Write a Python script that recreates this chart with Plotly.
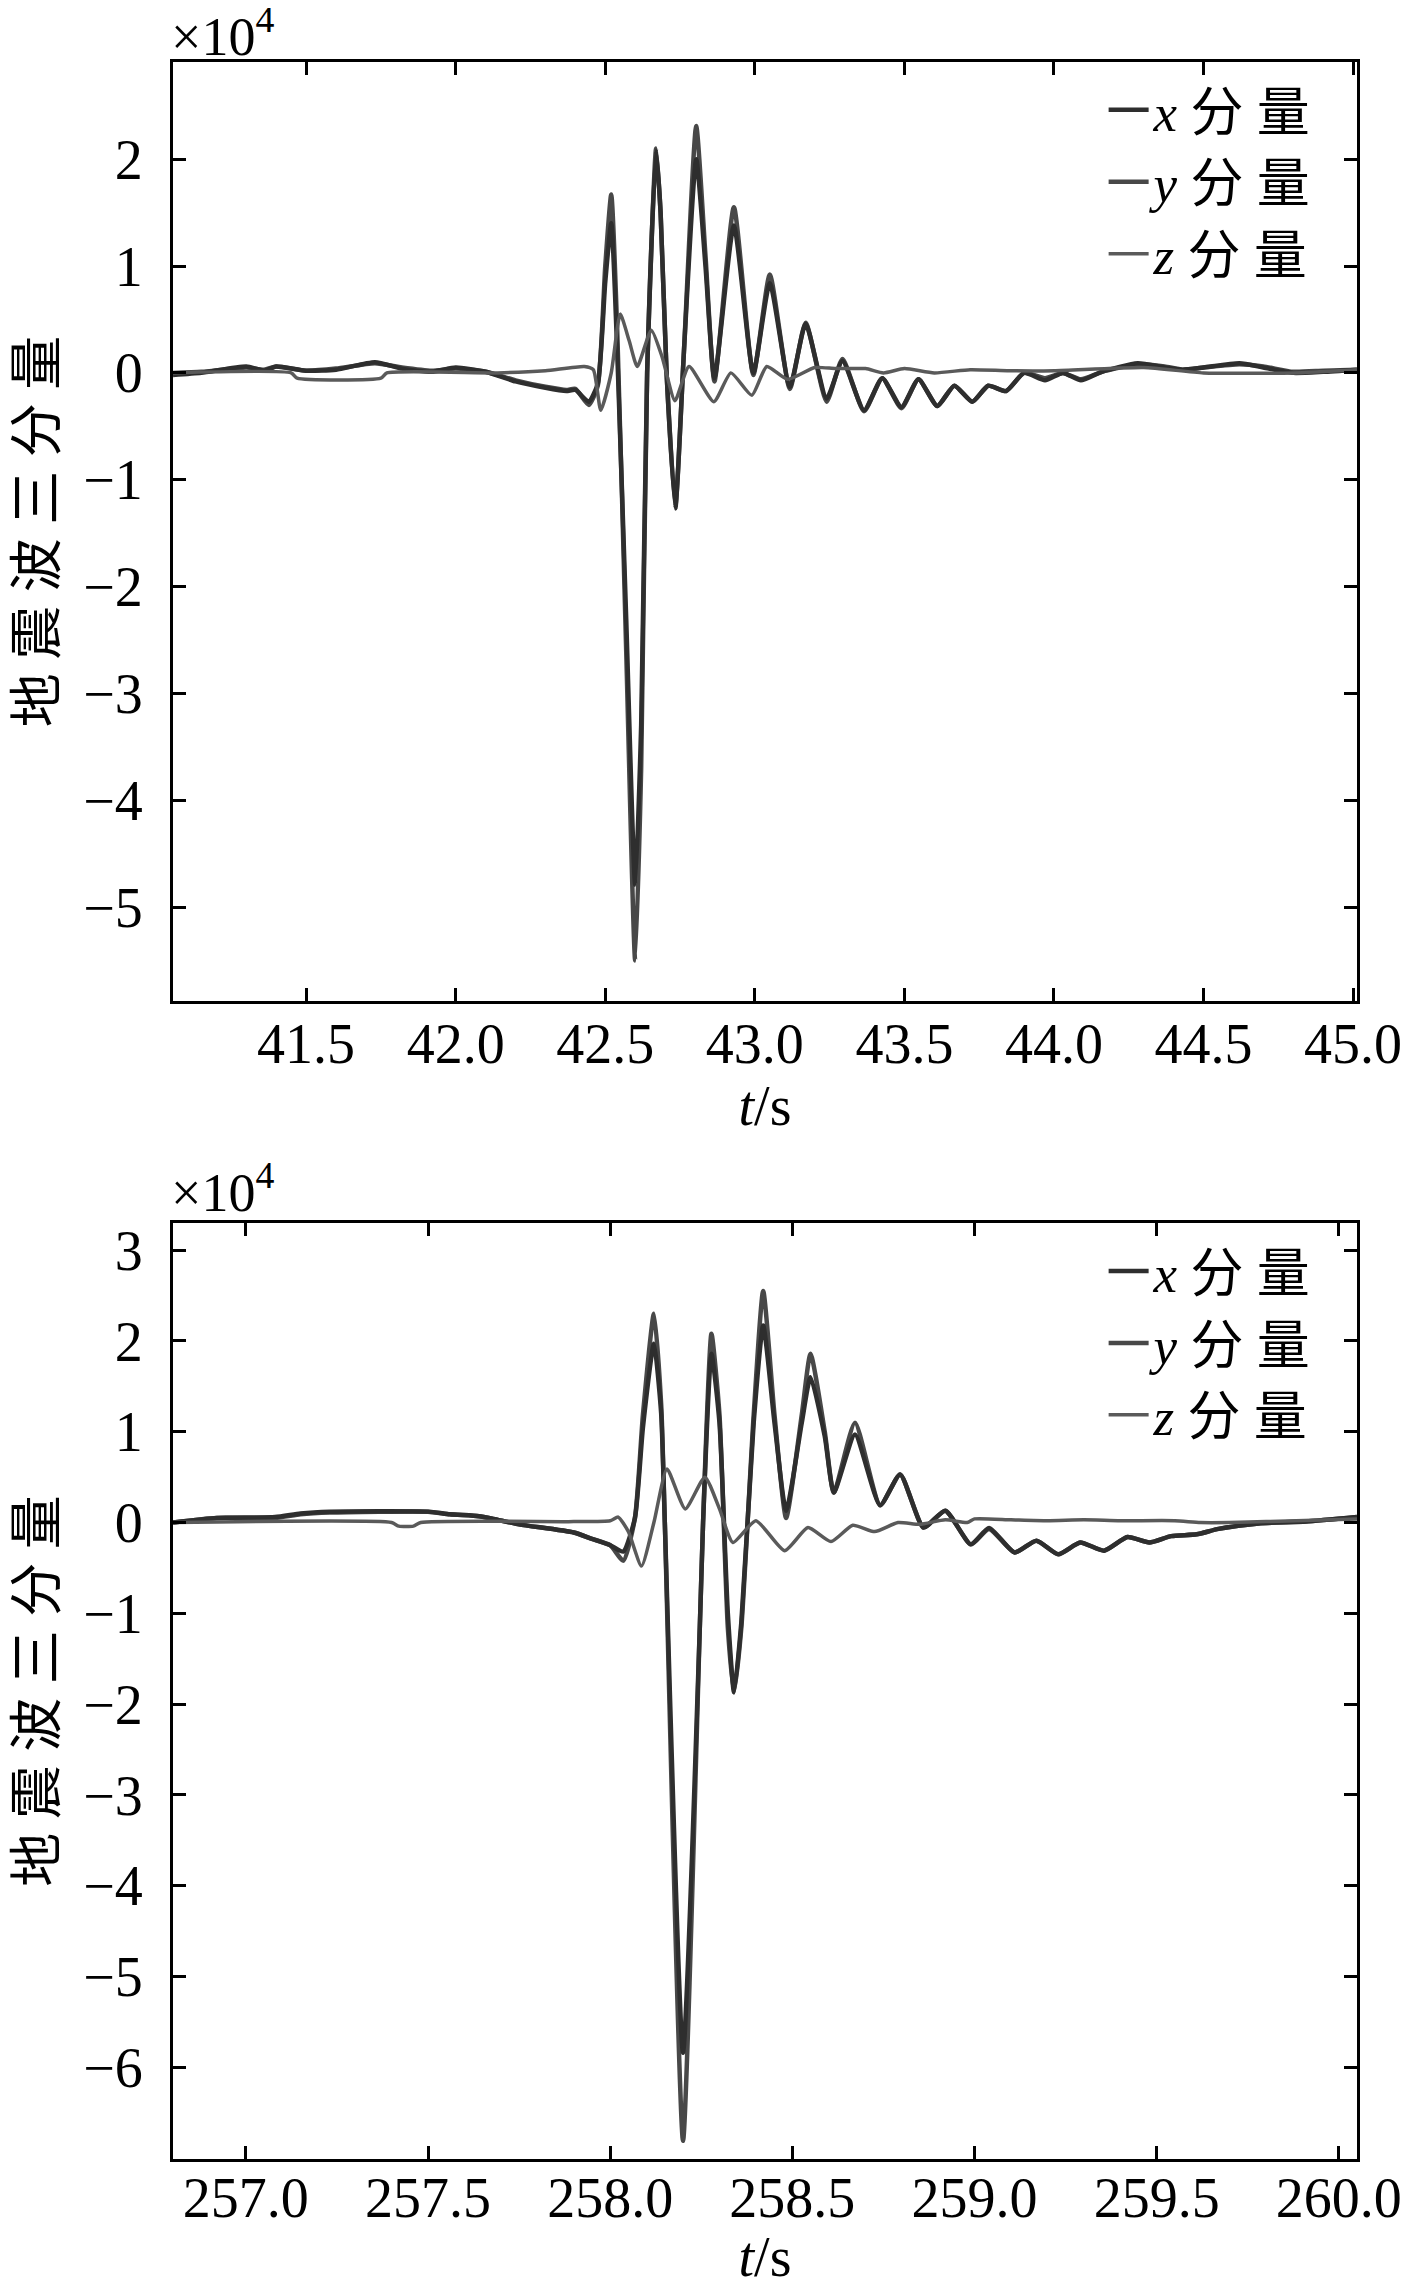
import plotly.graph_objects as go

# ---------------- data (values in units of 10^4) ----------------
# Top panel: x / y components share a time grid
t_top_xy = [41.055, 41.15, 41.30, 41.36, 41.40, 41.50, 41.60, 41.73, 41.82, 41.92,
            42.00, 42.10, 42.20, 42.30, 42.37, 42.40, 42.445, 42.475, 42.50, 42.52,
            42.54, 42.57, 42.60, 42.62, 42.64, 42.67, 42.685, 42.705, 42.734, 42.763,
            42.804, 42.835, 42.865, 42.93, 42.995, 43.05, 43.117, 43.17, 43.24, 43.293,
            43.365, 43.426, 43.49, 43.547, 43.61, 43.667, 43.727, 43.78, 43.84, 43.90,
            43.97, 44.03, 44.09, 44.16, 44.28, 44.37, 44.43, 44.50, 44.62, 44.70,
            44.80, 44.90, 45.013]
x_top = [-0.02, 0.00, 0.06, 0.02, 0.06, 0.02, 0.03, 0.10, 0.04, 0.01,
         0.05, 0.01, -0.08, -0.14, -0.17, -0.16, -0.27, -0.10, 0.85, 1.40,
         0.20, -2.30, -4.79, -3.30, 0.00, 2.08, 1.50, 0.00, -1.27, 0.20,
         2.00, 1.00, -0.05, 1.38, 0.00, 0.84, -0.13, 0.46, -0.24, 0.11,
         -0.35, -0.05, -0.32, -0.06, -0.31, -0.12, -0.27, -0.12, -0.17, 0.00,
         -0.07, 0.00, -0.07, 0.01, 0.09, 0.05, 0.03, 0.05, 0.09, 0.05,
         0.00, 0.01, 0.03]
y_top = [0.00, 0.01, 0.05, 0.03, 0.06, 0.02, 0.04, 0.09, 0.05, 0.02,
         0.04, 0.01, -0.07, -0.13, -0.16, -0.15, -0.30, -0.12, 1.00, 1.67,
         0.40, -2.60, -5.50, -3.70, 0.00, 2.10, 1.50, 0.00, -1.25, 0.20,
         2.31, 1.10, -0.08, 1.55, -0.02, 0.92, -0.15, 0.47, -0.27, 0.13,
         -0.36, -0.05, -0.33, -0.06, -0.31, -0.12, -0.27, -0.12, -0.17, 0.00,
         -0.05, 0.00, -0.06, 0.01, 0.08, 0.06, 0.03, 0.05, 0.08, 0.06,
         0.01, 0.02, 0.03]
t_top_z = [41.055, 41.45, 41.47, 41.75, 41.77, 42.14, 42.30, 42.43, 42.46, 42.485,
           42.52, 42.55, 42.58, 42.607, 42.654, 42.69, 42.733, 42.78, 42.863, 42.92,
           42.99, 43.04, 43.11, 43.20, 43.27, 43.37, 43.43, 43.50, 43.60, 43.72,
           43.85, 44.00, 44.30, 44.50, 44.80, 45.013]
z_top = [0.00, 0.00, -0.05, -0.05, 0.00, 0.00, 0.02, 0.06, 0.03, -0.35,
         0.00, 0.55, 0.30, 0.06, 0.40, 0.15, -0.26, 0.06, -0.27, 0.00,
         -0.21, 0.06, -0.06, 0.05, 0.04, 0.04, 0.00, 0.04, 0.00, 0.03,
         0.02, 0.02, 0.05, 0.00, 0.00, 0.03]

# Bottom panel
t_bot_xy = [256.80, 256.92, 257.08, 257.15, 257.23, 257.50, 257.56, 257.64, 257.68, 257.75,
            257.90, 257.95, 258.00, 258.036, 258.068, 258.09, 258.12, 258.14, 258.15, 258.20,
            258.246, 258.255, 258.278, 258.30, 258.323, 258.34, 258.36, 258.394, 258.42, 258.451,
            258.483, 258.526, 258.55, 258.589, 258.614, 258.672, 258.741, 258.796, 258.86, 258.92,
            258.99, 259.04, 259.11, 259.17, 259.23, 259.29, 259.356, 259.42, 259.48, 259.54,
            259.61, 259.67, 259.78, 259.91, 260.05]
x_bot = [0.00, 0.05, 0.06, 0.10, 0.12, 0.12, 0.09, 0.07, 0.04, -0.02,
         -0.11, -0.18, -0.25, -0.32, 0.05, 1.05, 1.97, 1.20, 0.00, -5.84,
         -1.16, 0.00, 1.86, 1.10, -1.00, -1.87, -1.10, 1.10, 2.17, 1.10,
         0.13, 1.10, 1.60, 0.95, 0.33, 0.97, 0.19, 0.53, -0.055, 0.13,
         -0.24, -0.06, -0.33, -0.20, -0.35, -0.22, -0.31, -0.16, -0.22, -0.15,
         -0.13, -0.07, -0.01, 0.01, 0.06]
y_bot = [0.00, 0.05, 0.05, 0.09, 0.11, 0.12, 0.09, 0.07, 0.04, -0.02,
         -0.11, -0.18, -0.25, -0.42, 0.05, 1.19, 2.30, 1.30, 0.00, -6.81,
         -1.16, 0.00, 2.08, 1.19, -1.16, -1.87, -1.16, 1.19, 2.55, 1.19,
         0.05, 1.19, 1.86, 1.00, 0.33, 1.10, 0.19, 0.53, -0.055, 0.13,
         -0.24, -0.07, -0.33, -0.20, -0.35, -0.22, -0.31, -0.16, -0.22, -0.15,
         -0.13, -0.07, -0.01, 0.01, 0.06]
t_bot_z = [256.80, 257.40, 257.42, 257.46, 257.48, 257.90, 258.00, 258.022, 258.05, 258.086,
           258.12, 258.156, 258.206, 258.26, 258.30, 258.337, 258.40, 258.479, 258.543, 258.606,
           258.666, 258.726, 258.79, 258.85, 258.92, 258.98, 259.00, 259.10, 259.20, 259.30,
           259.40, 259.55, 259.62, 259.70, 259.80, 260.05]
z_bot = [0.00, 0.00, -0.04, -0.04, 0.00, 0.01, 0.02, 0.06, -0.10, -0.48,
         0.00, 0.59, 0.15, 0.50, 0.15, -0.22, 0.02, -0.31, -0.055, -0.21,
         -0.03, -0.10, 0.00, -0.02, 0.03, 0.00, 0.04, 0.03, 0.02, 0.03,
         0.02, 0.02, 0.00, 0.00, 0.01, 0.04]

series_names = ["<i>x</i> 分 量", "<i>y</i> 分 量", "<i>z</i> 分 量"]
series_colors = ["#2e2e2e", "#484848", "#5a5a5a"]

x_ticks_top = [41.5, 42.0, 42.5, 43.0, 43.5, 44.0, 44.5, 45.0]
x_ticks_bot = [257.0, 257.5, 258.0, 258.5, 259.0, 259.5, 260.0]
y_ticks_top = [-5, -4, -3, -2, -1, 0, 1, 2]
y_ticks_bot = [-6, -5, -4, -3, -2, -1, 0, 1, 2, 3]

FONT = "Liberation Serif, Times New Roman, Noto Sans CJK SC, serif"

fig = go.Figure()

def add_panel(t_xy, xv, yv, t_z, zv, xa, ya, leg):
    # y first, then x, then z on top
    fig.add_trace(go.Scatter(x=t_xy, y=yv, mode="lines", name=series_names[1],
                             line=dict(color=series_colors[1], width=4.5,
                                       shape="spline", smoothing=0.55),
                             xaxis=xa, yaxis=ya, legend=leg, legendrank=2))
    fig.add_trace(go.Scatter(x=t_xy, y=xv, mode="lines", name=series_names[0],
                             line=dict(color=series_colors[0], width=4.5,
                                       shape="spline", smoothing=0.55),
                             xaxis=xa, yaxis=ya, legend=leg, legendrank=1))
    fig.add_trace(go.Scatter(x=t_z, y=zv, mode="lines", name=series_names[2],
                             line=dict(color=series_colors[2], width=3.5,
                                       shape="spline", smoothing=0.55),
                             xaxis=xa, yaxis=ya, legend=leg, legendrank=3))

add_panel(t_top_xy, x_top, y_top, t_top_z, z_top, "x", "y", "legend")
add_panel(t_bot_xy, x_bot, y_bot, t_bot_z, z_bot, "x2", "y2", "legend2")

axis_common = dict(showline=True, linecolor="black", linewidth=3, mirror="ticks",
                   ticks="inside", ticklen=13, tickwidth=2.5, tickcolor="black",
                   showgrid=False, zeroline=False,
                   tickfont=dict(family=FONT, size=56, color="black"))

H_TOP0 = 0.5522
H_BOT1 = 0.4464

fig.update_layout(
    width=1417, height=2280,
    paper_bgcolor="white", plot_bgcolor="white",
    margin=dict(l=165, r=68, t=54, b=129),
    font=dict(family=FONT, color="black"),
    xaxis=dict(axis_common, range=[41.055, 45.013], tickvals=x_ticks_top,
               tickformat=".1f", domain=[0, 1], anchor="y", ticklabelstandoff=-8,
               title=dict(text="<i>t</i>/s", font=dict(family=FONT, size=56), standoff=4)),
    yaxis=dict(axis_common, range=[-5.88, 2.91], tickvals=y_ticks_top,
               domain=[H_TOP0, 1], anchor="x", ticklabelstandoff=16,
               title=dict(text="地 震 波 三 分 量", font=dict(family=FONT, size=54), standoff=18)),
    xaxis2=dict(axis_common, range=[256.80, 260.05], tickvals=x_ticks_bot,
                tickformat=".1f", domain=[0, 1], anchor="y2", ticklabelstandoff=-12,
                title=dict(text="<i>t</i>/s", font=dict(family=FONT, size=56), standoff=0)),
    yaxis2=dict(axis_common, range=[-7.01, 3.30], tickvals=y_ticks_bot,
                domain=[0, H_BOT1], anchor="x2", ticklabelstandoff=16,
                title=dict(text="地 震 波 三 分 量", font=dict(family=FONT, size=54), standoff=18)),
    legend=dict(x=0.786, xanchor="left", y=0.9967, yanchor="top",
                bgcolor="rgba(0,0,0,0)", font=dict(family=FONT, size=53, color="black"),
                itemwidth=40, tracegroupgap=0),
    legend2=dict(x=0.786, xanchor="left", y=0.443, yanchor="top",
                 bgcolor="rgba(0,0,0,0)", font=dict(family=FONT, size=53, color="black"),
                 itemwidth=40, tracegroupgap=0),
    annotations=[
        dict(text="×10<sup>4</sup>", xref="x domain", yref="y domain", x=0, y=1,
             xanchor="left", yanchor="bottom", xshift=-4, yshift=-7, showarrow=False,
             font=dict(family=FONT, size=54, color="black")),
        dict(text="×10<sup>4</sup>", xref="x2 domain", yref="y2 domain", x=0, y=1,
             xanchor="left", yanchor="bottom", xshift=-4, yshift=-2, showarrow=False,
             font=dict(family=FONT, size=54, color="black")),
    ],
)

fig.write_html("out.html")
